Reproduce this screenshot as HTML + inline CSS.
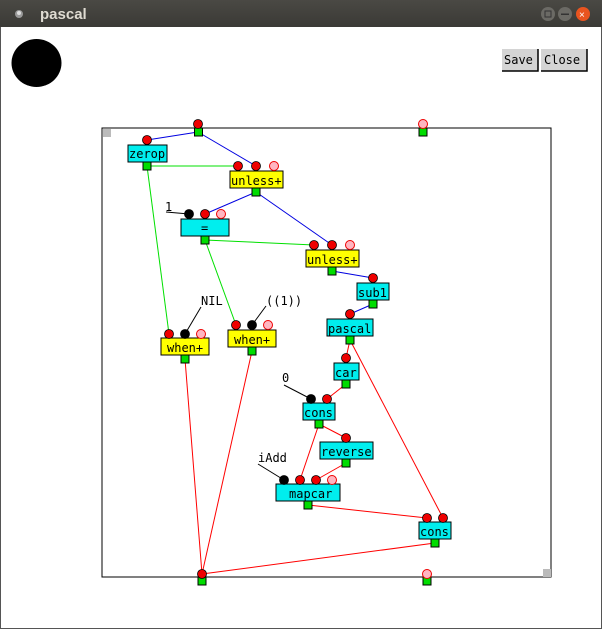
<!DOCTYPE html>
<html><head><meta charset="utf-8"><style>
html,body{margin:0;padding:0;width:602px;height:629px;overflow:hidden;background:#fff}
svg{display:block}
text{font-family:"DejaVu Sans Mono","Liberation Mono",monospace;font-size:12px}
</style></head><body>
<svg width="602" height="629" viewBox="0 0 602 629" xmlns="http://www.w3.org/2000/svg">
<defs><linearGradient id="tb" x1="0" y1="0" x2="0" y2="1"><stop offset="0" stop-color="#4a4944"/><stop offset="1" stop-color="#3a3935"/></linearGradient></defs>
<rect x="0" y="0" width="602" height="28" fill="url(#tb)"/>
<rect x="0" y="27" width="602" height="602" fill="#fff"/>
<rect x="0" y="27" width="1" height="602" fill="#555"/><rect x="601" y="27" width="1" height="602" fill="#555"/><rect x="0" y="628" width="602" height="1" fill="#555"/>
<circle cx="19" cy="14" r="4" fill="#999"/><circle cx="19" cy="13" r="2" fill="#ddd"/>
<text x="40" y="19" fill="#dfdbd2" style="font-family:'Liberation Sans',sans-serif;font-size:15px;font-weight:bold">pascal</text>
<circle cx="548" cy="14" r="7" fill="#6b6a65"/><rect x="545" y="11" width="6" height="6" fill="none" stroke="#333" stroke-width="1"/>
<circle cx="565" cy="14" r="7" fill="#6b6a65"/><rect x="561" y="13.5" width="8" height="1.5" fill="#333"/>
<circle cx="583" cy="14" r="7" fill="#e9541f"/><text x="579" y="18" fill="#fff" style="font-family:'Liberation Sans';font-size:10px">×</text>

<ellipse cx="36.5" cy="63" rx="25" ry="24" fill="#000"/>
<rect x="502" y="49" width="36" height="22" fill="#d4d4d4"/><path d="M502 71h36V49" fill="none" stroke="#000" stroke-width="1.5"/>
<text x="504" y="64" fill="#000">Save</text>
<rect x="541" y="49" width="46" height="22" fill="#d4d4d4"/><path d="M541 71h46V49" fill="none" stroke="#000" stroke-width="1.5"/>
<text x="544" y="64" fill="#000">Close</text>

<rect x="102" y="128" width="449" height="449" fill="none" stroke="#000" stroke-width="1"/>
<rect x="103" y="129" width="8" height="8" fill="#bbb"/>
<rect x="543" y="569" width="8" height="8" fill="#bbb"/>

<g stroke-width="1" fill="none">
<g stroke="#0000e0">
<line x1="198" y1="132" x2="147" y2="140"/><line x1="198" y1="132" x2="256" y2="166"/>
<line x1="256" y1="192" x2="205" y2="214"/><line x1="256" y1="192" x2="332" y2="245"/>
<line x1="332" y1="271" x2="373" y2="278"/><line x1="373" y1="304" x2="350" y2="314"/>
</g>
<g stroke="#00e000">
<line x1="147" y1="166" x2="238" y2="166"/><line x1="147" y1="166" x2="169" y2="334"/>
<line x1="205" y1="240" x2="314" y2="245"/><line x1="205" y1="240" x2="236" y2="325"/>
</g>
<g stroke="#f00">
<line x1="350" y1="340" x2="346" y2="358"/><line x1="350" y1="340" x2="443" y2="518"/>
<line x1="346" y1="384" x2="327" y2="399"/><line x1="319" y1="424" x2="346" y2="438"/>
<line x1="319" y1="424" x2="300" y2="480"/><line x1="346" y1="463" x2="316" y2="480"/>
<line x1="308" y1="505" x2="427" y2="518"/><line x1="435" y1="543" x2="202" y2="574"/>
<line x1="185" y1="359" x2="202" y2="574"/><line x1="252" y1="351" x2="202" y2="574"/>
</g>
<g stroke="#000">
<polyline points="166,212 189,214"/><polyline points="201,307 185,334"/>
<polyline points="266,306 252,325"/><polyline points="284,385 311,399"/>
<polyline points="258,464 284,480"/>
</g>
</g>
<g fill="#000">
<text x="165" y="211">1</text><text x="201" y="305">NIL</text><text x="266" y="305">((1))</text>
<text x="282" y="382">0</text><text x="258" y="462">iAdd</text>
</g>

<g stroke="#000" stroke-width="1">
<rect x="128" y="145" width="39" height="17" fill="#00eeee"/>
<rect x="230" y="171" width="53" height="17" fill="#ffff00"/>
<rect x="181" y="219" width="48" height="17" fill="#00eeee"/>
<rect x="306" y="250" width="53" height="17" fill="#ffff00"/>
<rect x="357" y="283" width="32" height="17" fill="#00eeee"/>
<rect x="327" y="319" width="46" height="17" fill="#00eeee"/>
<rect x="161" y="338" width="48" height="17" fill="#ffff00"/>
<rect x="228" y="330" width="48" height="17" fill="#ffff00"/>
<rect x="334" y="363" width="25" height="17" fill="#00eeee"/>
<rect x="303" y="403" width="32" height="17" fill="#00eeee"/>
<rect x="320" y="442" width="53" height="17" fill="#00eeee"/>
<rect x="276" y="484" width="64" height="17" fill="#00eeee"/>
<rect x="419" y="522" width="32" height="17" fill="#00eeee"/>
</g>
<g fill="#000">
<text x="129" y="158">zerop</text><text x="231" y="185">unless+</text><text x="201" y="232">=</text>
<text x="307" y="264">unless+</text><text x="358" y="297">sub1</text><text x="328" y="333">pascal</text>
<text x="167" y="352">when+</text><text x="234" y="344">when+</text><text x="335" y="377">car</text>
<text x="304" y="417">cons</text><text x="321" y="456">reverse</text><text x="289" y="498">mapcar</text>
<text x="420" y="536">cons</text>
</g>

<g stroke="#000" stroke-width="1" fill="#00dd00">
<rect x="194.5" y="128" width="8" height="8"/><rect x="419" y="128" width="8" height="8"/>
<rect x="143" y="162" width="8" height="8"/><rect x="252" y="188" width="8" height="8"/>
<rect x="201" y="236" width="8" height="8"/><rect x="328" y="267" width="8" height="8"/>
<rect x="369" y="300" width="8" height="8"/><rect x="346" y="336" width="8" height="8"/>
<rect x="181" y="355" width="8" height="8"/><rect x="248" y="347" width="8" height="8"/>
<rect x="342" y="380" width="8" height="8"/><rect x="315" y="420" width="8" height="8"/>
<rect x="342" y="459" width="8" height="8"/><rect x="304" y="501" width="8" height="8"/>
<rect x="431" y="539" width="8" height="8"/>
<rect x="198" y="577" width="8" height="8"/><rect x="423" y="577" width="8" height="8"/>
</g>
<g stroke="#000" stroke-width="0.8">
<g fill="#ee0000">
<circle cx="198" cy="124" r="4.5"/><circle cx="147" cy="140" r="4.5"/>
<circle cx="238" cy="166" r="4.5"/><circle cx="256" cy="166" r="4.5"/>
<circle cx="205" cy="214" r="4.5"/>
<circle cx="314" cy="245" r="4.5"/><circle cx="332" cy="245" r="4.5"/>
<circle cx="373" cy="278" r="4.5"/><circle cx="350" cy="314" r="4.5"/>
<circle cx="169" cy="334" r="4.5"/><circle cx="236" cy="325" r="4.5"/>
<circle cx="346" cy="358" r="4.5"/><circle cx="327" cy="399" r="4.5"/>
<circle cx="346" cy="438" r="4.5"/>
<circle cx="300" cy="480" r="4.5"/><circle cx="316" cy="480" r="4.5"/>
<circle cx="427" cy="518" r="4.5"/><circle cx="443" cy="518" r="4.5"/>
<circle cx="202" cy="574" r="4.5"/>
</g>
<g fill="#000">
<circle cx="189" cy="214" r="4.5"/><circle cx="185" cy="334" r="4.5"/>
<circle cx="252" cy="325" r="4.5"/><circle cx="311" cy="399" r="4.5"/>
<circle cx="284" cy="480" r="4.5"/>
</g>
</g>
<g fill="#ffb6c1" stroke="#ee0000" stroke-width="1">
<circle cx="423" cy="124" r="4.5"/><circle cx="274" cy="166" r="4.5"/>
<circle cx="221" cy="214" r="4.5"/><circle cx="350" cy="245" r="4.5"/>
<circle cx="201" cy="334" r="4.5"/><circle cx="268" cy="325" r="4.5"/>
<circle cx="332" cy="480" r="4.5"/><circle cx="427" cy="574" r="4.5"/>
</g>
</svg>
</body></html>
